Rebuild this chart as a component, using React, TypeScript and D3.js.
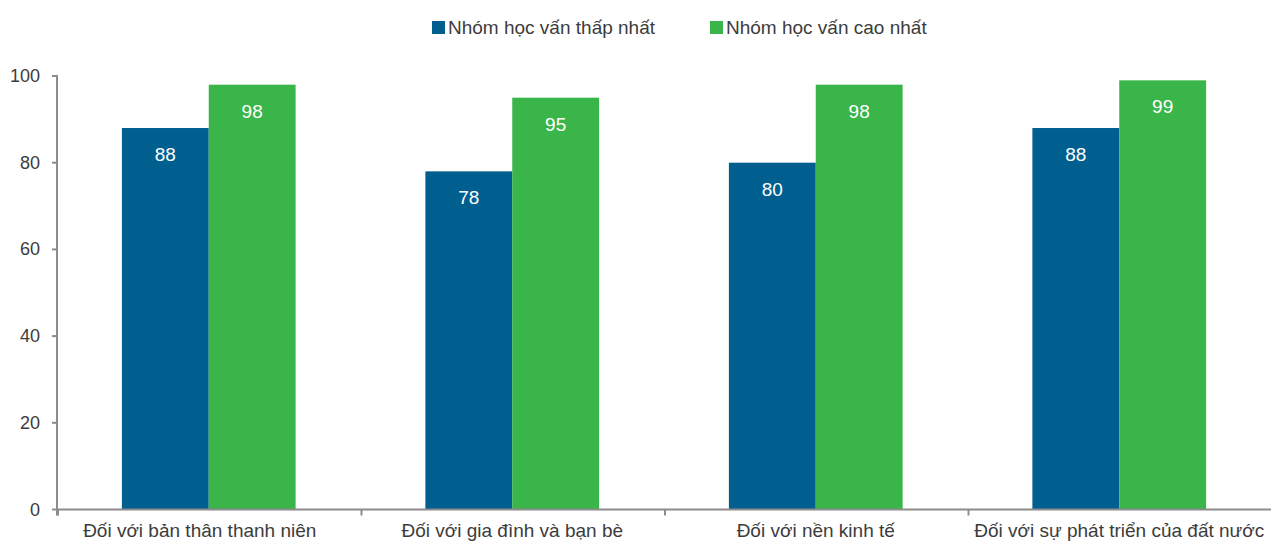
import React from "react";
import * as d3 from "d3";

const categories = [
  "Đối với bản thân thanh niên",
  "Đối với gia đình và bạn bè",
  "Đối với nền kinh tế",
  "Đối với sự phát triển của đất nước",
];
const seriesNames = ["Nhóm học vấn thấp nhất", "Nhóm học vấn cao nhất"];
const lowest = [88, 78, 80, 88];
const highest = [98, 95, 98, 99];
const yTicks = [0, 20, 40, 60, 80, 100];
const colors = ["#005f8f", "#39b54a"];

const W = 1271;
const H = 541;
const left = 57;
const right = 1271;
const top = 76;
const bottom = 509.5;
const font = "'Liberation Sans', Arial, sans-serif";

export default function App() {
  const x = d3.scaleBand<string>().domain(categories).range([left, right]).paddingInner(0).paddingOuter(0);
  const bw = x.bandwidth();
  const inner = d3.scaleBand<number>().domain([0, 1]).range([0, bw]).paddingInner(0).paddingOuter(0.747);
  const y = d3.scaleLinear().domain([0, 100]).range([bottom, top]);
  const series = [lowest, highest];
  const boundaries = categories.map((c) => x(c) as number);

  return (
    <svg width={W} height={H} style={{ position: "absolute", left: 0, top: 0 }} fontFamily={font}>
      {/* legend */}
      {seriesNames.map((n, i) => {
        const lx = i === 0 ? 432 : 710;
        return (
          <g key={n}>
            <rect x={lx} y={21} width={13} height={13} fill={colors[i]} />
            <text x={lx + 16} y={34} fontSize={19} fill="#3c3c3c">{n}</text>
          </g>
        );
      })}
      {/* bars */}
      {categories.map((c, ci) => (
        <g key={c}>
          {series.map((s, si) => {
            const bx = (x(c) as number) + (inner(si) as number);
            const bwi = inner.bandwidth();
            const yt = y(s[ci]);
            return (
              <g key={si}>
                <rect x={bx} y={yt} width={bwi} height={bottom - yt} fill={colors[si]} />
                <text x={bx + bwi / 2} y={yt + 33} textAnchor="middle" fontSize={19} fill="#ffffff">{s[ci]}</text>
              </g>
            );
          })}
        </g>
      ))}
      {/* y axis */}
      <line x1={left} x2={left} y1={top - 1} y2={bottom + 6} stroke="#8c8c8c" strokeWidth={2} />
      {yTicks.map((t) => (
        <g key={t}>
          <line x1={left - 5} x2={left} y1={y(t)} y2={y(t)} stroke="#8c8c8c" strokeWidth={2} />
          <text x={40} y={y(t) + 6} textAnchor="end" fontSize={18} fill="#3c3c3c">{t}</text>
        </g>
      ))}
      {/* x axis */}
      <line x1={left} x2={right} y1={bottom} y2={bottom} stroke="#8c8c8c" strokeWidth={2} />
      {boundaries.map((b, i) => (
        <line key={i} x1={b + 1} x2={b + 1} y1={bottom} y2={bottom + 6} stroke="#8c8c8c" strokeWidth={2} />
      ))}
      {categories.map((c, i) => (
        <text key={c} x={(x(c) as number) + bw / 2 - (i === 0 ? 9 : 0)} y={537} textAnchor="middle" fontSize={19} fill="#3c3c3c">{c}</text>
      ))}
    </svg>
  );
}
